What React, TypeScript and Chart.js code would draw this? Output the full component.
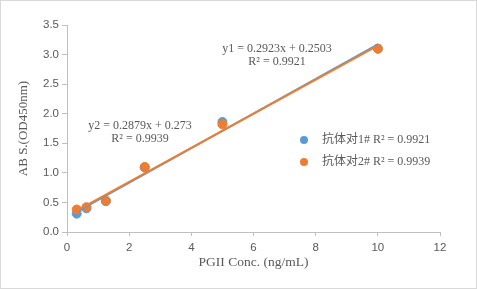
import React, { useEffect, useRef } from "react";
import { Chart, registerables } from "chart.js";

Chart.register(...registerables);

const xValues = [0.3125, 0.625, 1.25, 2.5, 5, 10];
const series1 = [0.31, 0.4, 0.52, 1.09, 1.86, 3.1];
const series2 = [0.38, 0.42, 0.53, 1.1, 1.82, 3.1];
const seriesNames = ["抗体对1# R² = 0.9921", "抗体对2# R² = 0.9939"];
const slopes = [0.2923, 0.2879];
const intercepts = [0.2503, 0.273];
const equations = [
  ["y1 = 0.2923x + 0.2503", "R² = 0.9921"],
  ["y2 = 0.2879x + 0.273", "R² = 0.9939"],
];
const xTitle = "PGII Conc. (ng/mL)";
const yTitle = "AB S.(OD450nm)";

const BLUE = "#5b9bd5";
const ORANGE = "#ed7d31";
const GRAY = "#595959";
const AXIS = "#bfbfbf";
const SERIF = "'Liberation Serif', 'Times New Roman', 'Noto Sans CJK SC', serif";
const TICKFONT = "'Liberation Sans', Arial, sans-serif";

const pts = (ys: number[]) => xValues.map((x, i) => ({ x, y: ys[i] }));
const trend = (k: number) => {
  const x0 = xValues[0];
  const x1 = xValues[xValues.length - 1];
  return [
    { x: x0, y: slopes[k] * x0 + intercepts[k] },
    { x: x1, y: slopes[k] * x1 + intercepts[k] },
  ];
};

const overlayPlugin = {
  id: "overlay",
  afterDraw(chart: any) {
    const ctx = chart.ctx;
    ctx.save();
    ctx.fillStyle = GRAY;
    ctx.font = `12px ${SERIF}`;
    ctx.textAlign = "center";
    ctx.textBaseline = "middle";
    const eqPos = [
      [276, 48, 61],
      [139, 125, 138],
    ];
    equations.forEach((lines, k) => {
      ctx.fillText(lines[0], eqPos[k][0], eqPos[k][1]);
      ctx.fillText(lines[1], eqPos[k][0], eqPos[k][2]);
    });
    const colors = [BLUE, ORANGE];
    const legendY = [139, 161];
    seriesNames.forEach((name, k) => {
      ctx.beginPath();
      ctx.fillStyle = colors[k];
      ctx.arc(303, legendY[k], 4, 0, Math.PI * 2);
      ctx.fill();
      ctx.fillStyle = GRAY;
      ctx.textAlign = "left";
      ctx.fillText(name, 321, legendY[k]);
    });
    ctx.restore();
  },
};

export default function App() {
  const ref = useRef<HTMLCanvasElement>(null);
  useEffect(() => {
    document.body.style.margin = "0";
    const chart = new Chart(ref.current!, {
      type: "scatter",
      data: {
        datasets: [
          {
            label: "trend2",
            type: "line",
            data: trend(1),
            borderColor: ORANGE,
            borderWidth: 2,
            pointRadius: 0,
            order: 0,
          },
          {
            label: "trend1",
            type: "line",
            data: trend(0),
            borderColor: BLUE,
            borderWidth: 2,
            pointRadius: 0,
            order: 1,
          },
          {
            label: seriesNames[1],
            data: pts(series2),
            backgroundColor: ORANGE,
            borderColor: ORANGE,
            pointRadius: 4.5,
            order: 2,
          },
          {
            label: seriesNames[0],
            data: pts(series1),
            backgroundColor: BLUE,
            borderColor: BLUE,
            pointRadius: 4.5,
            order: 3,
          },
        ],
      },
      options: {
        animation: false,
        responsive: false,
        maintainAspectRatio: false,
        layout: { padding: { left: 0, top: 24, right: 36, bottom: 0 } },
        plugins: { legend: { display: false }, tooltip: { enabled: false } },
        scales: {
          x: {
            type: "linear",
            min: 0,
            max: 12,
            ticks: { stepSize: 2, color: GRAY, font: { family: TICKFONT, size: 11.5 }, padding: 5 },
            grid: { display: true, drawOnChartArea: false, drawTicks: true, tickLength: 4, color: AXIS },
            border: { color: AXIS },
            title: {
              display: true,
              text: xTitle,
              color: GRAY,
              font: { family: SERIF, size: 13.5 },
              padding: { top: 0, bottom: 17 },
            },
            afterFit: (s: any) => {
              s.height = 56;
            },
          },
          y: {
            min: 0,
            max: 3.5,
            ticks: {
              stepSize: 0.5,
              color: GRAY,
              font: { family: TICKFONT, size: 11.5 },
              padding: 3,
              callback: (v: any) => Number(v).toFixed(1),
            },
            grid: { display: true, drawOnChartArea: false, drawTicks: true, tickLength: 5, color: AXIS },
            border: { color: AXIS },
            title: {
              display: true,
              text: yTitle,
              color: GRAY,
              font: { family: SERIF, size: 13 },
              padding: { top: 15, bottom: 0 },
            },
            afterFit: (s: any) => {
              s.width = 66;
            },
          },
        },
      },
      plugins: [overlayPlugin],
    } as any);
    return () => chart.destroy();
  }, []);
  return (
    <div
      style={{
        position: "absolute",
        left: 0,
        top: 0,
        width: 477,
        height: 289,
        boxSizing: "border-box",
        border: "1px solid #d9d9d9",
        background: "#fff",
        overflow: "hidden",
      }}
    >
      <canvas ref={ref} width={475} height={287} style={{ display: "block" }} />
    </div>
  );
}
